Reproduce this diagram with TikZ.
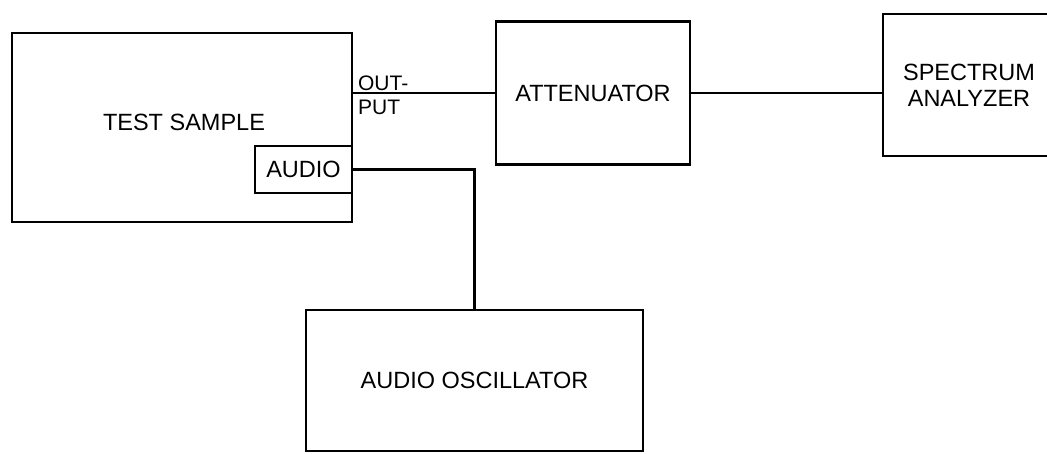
\documentclass[tikz,border=0pt]{standalone}
\usepackage{fontspec}
\setmainfont{Liberation Sans}
\usetikzlibrary{positioning,calc}

\begin{document}
\begin{tikzpicture}[x=1pt, y=-1pt, line width=2.2pt,
  blk/.style={draw, inner sep=0pt},
  font=\fontsize{23.5}{26}\selectfont]
  \useasboundingbox (0,0) rectangle (1047,453);
  % blocks
  \node[blk, minimum width=340, minimum height=189] (ts) at (182,127.5) {};
  \node (tstext) at (184,122) {TEST SAMPLE};
  \node[blk, minimum width=97, minimum height=47] (aud) at (303.5,169.5) {AUDIO};
  \node[blk, minimum width=194, minimum height=143] (att) at (593,93) {ATTENUATOR};
  \node[blk, minimum width=172, minimum height=142, align=center] (spec) at (969,85) {SPECTRUM\\ANALYZER};
  \node[blk, minimum width=337, minimum height=141] (osc) at (474.5,380.5) {AUDIO OSCILLATOR};
  \node[anchor=west, align=left, inner sep=0pt, font=\fontsize{21}{24}\selectfont] (outlbl) at (357,95.5) {OUT-\\PUT};
  % wiring
  \draw (ts.east |- att.west) -- (att.west);
  \draw (att.east) -- (att.east -| spec.west);
  \draw (aud.east) -| (osc.north);
\end{tikzpicture}
\end{document}
